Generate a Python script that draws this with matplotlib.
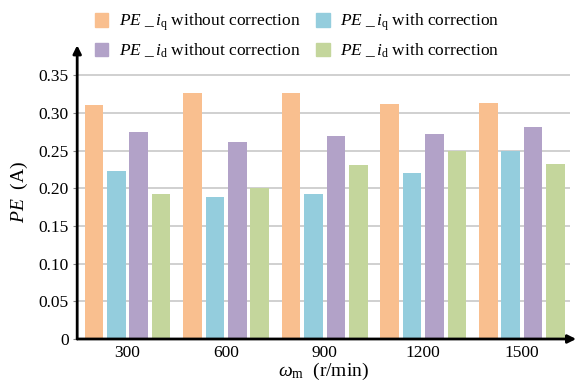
import matplotlib
matplotlib.use("Agg")
import matplotlib.pyplot as plt
import numpy as np
from matplotlib.patches import Patch

speeds = ["300", "600", "900", "1200", "1500"]
pe_iq_without = [0.310, 0.327, 0.326, 0.312, 0.313]
pe_iq_with = [0.223, 0.189, 0.193, 0.220, 0.250]
pe_id_without = [0.275, 0.262, 0.270, 0.272, 0.281]
pe_id_with = [0.192, 0.200, 0.231, 0.249, 0.232]
yticks = [0, 0.05, 0.10, 0.15, 0.20, 0.25, 0.30, 0.35]
ytick_labels = ["0", "0.05", "0.10", "0.15", "0.20", "0.25", "0.30", "0.35"]

colors = ["#F9BF8F", "#94CDDD", "#B2A2C8", "#C4D69C"]
labels = [
    r"$\mathit{PE}\ \_\,\mathit{i}_{\mathrm{q}}$ without correction",
    r"$\mathit{PE}\ \_\,\mathit{i}_{\mathrm{q}}$ with correction",
    r"$\mathit{PE}\ \_\,\mathit{i}_{\mathrm{d}}$ without correction",
    r"$\mathit{PE}\ \_\,\mathit{i}_{\mathrm{d}}$ with correction",
]

plt.rcParams["font.family"] = ["Liberation Serif", "DejaVu Serif"]
plt.rcParams["mathtext.fontset"] = "custom"
plt.rcParams["mathtext.rm"] = "Liberation Serif"
plt.rcParams["mathtext.it"] = "Liberation Serif:italic"
plt.rcParams["mathtext.bf"] = "Liberation Serif:bold"

fig = plt.figure(figsize=(5.76, 3.85), dpi=100)
ax = fig.add_axes([0.134, 0.1195, 0.856, 0.763])

x = np.arange(len(speeds))
series = [pe_iq_without, pe_iq_with, pe_id_without, pe_id_with]
pitch = 0.227
width = 0.19
for i, (vals, c) in enumerate(zip(series, colors)):
    ax.bar(x + (i - 1.5) * pitch, vals, width=width, color=c, zorder=3)

ax.set_xlim(-0.51, 4.49)
ax.set_ylim(0, 0.39)
ax.set_yticks(yticks)
ax.set_yticklabels(ytick_labels, fontsize=12.5)
ax.set_xticks(x)
ax.set_xticklabels(speeds, fontsize=12.5)
ax.tick_params(axis="x", length=0, pad=4)
ax.tick_params(axis="y", length=3, width=0.8, color="#888888", pad=3)
for yv in yticks[1:]:
    ax.axhline(yv, color="#c8c8c8", lw=1.2, zorder=1)

for s in ["top", "right", "left", "bottom"]:
    ax.spines[s].set_visible(False)

# axes with arrows
ax.annotate("", xy=(0, 1.0), xytext=(0, 0), xycoords="axes fraction",
            arrowprops=dict(arrowstyle="-|>", color="black", lw=2.0,
                            mutation_scale=12, shrinkA=0, shrinkB=0),
            annotation_clip=False, zorder=5)
ax.annotate("", xy=(1.012, 0), xytext=(0, 0), xycoords="axes fraction",
            arrowprops=dict(arrowstyle="-|>", color="black", lw=2.0,
                            mutation_scale=12, shrinkA=0, shrinkB=0),
            annotation_clip=False, zorder=5)

ax.set_ylabel(r"$\mathit{PE}$  (A)", fontsize=14, labelpad=6)
ax.set_xlabel(r"$\mathit{\omega}_{\mathrm{m}}$  (r/min)", fontsize=14, labelpad=0)

handles = [Patch(color=c) for c in colors]
order = [0, 2, 1, 3]
fig.legend([handles[i] for i in order], [labels[i] for i in order],
           ncol=2, frameon=False, fontsize=12.5,
           loc="upper left", bbox_to_anchor=(0.137, 1.01),
           handlelength=0.8, handleheight=0.8, handletextpad=0.6,
           columnspacing=0.9, labelspacing=0.45)

fig.savefig("out.png", dpi=100)
